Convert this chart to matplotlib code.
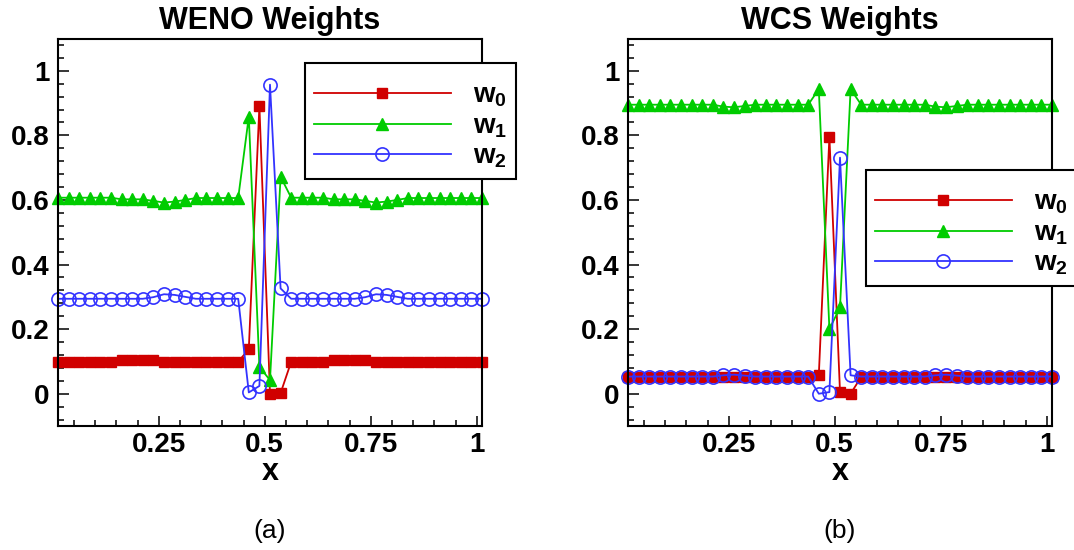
import matplotlib
matplotlib.use('Agg')
import matplotlib.pyplot as plt
import numpy as np
from matplotlib.ticker import MultipleLocator, FormatStrFormatter

plt.rcParams.update({
    'font.family': ['Liberation Sans', 'DejaVu Sans'],
    'font.weight': 'bold',
    'mathtext.fontset': 'custom',
    'mathtext.rm': 'Liberation Sans:bold',
    'mathtext.it': 'Liberation Sans:bold',
    'mathtext.bf': 'Liberation Sans:bold',
})

# grid points (41 cells, dx = 0.025)
x = 0.0125 + 0.025 * np.arange(41)

# WENO weights
weno_w0 = ([0.098] * 6 + [0.103] * 4 + [0.099] * 8
           + [0.138, 0.891, 0.000, 0.002]
           + [0.099] * 4 + [0.103] * 4 + [0.099] * 11)
weno_w1 = ([0.607] * 6 + [0.602] * 3 + [0.597, 0.592, 0.595, 0.600] + [0.606] * 5
           + [0.858, 0.083, 0.042, 0.672]
           + [0.607] * 4 + [0.602] * 3 + [0.597, 0.592, 0.595, 0.600] + [0.606] * 8)
weno_w2 = ([0.294] * 9 + [0.299, 0.308, 0.306, 0.300] + [0.294] * 5
           + [0.004, 0.024, 0.957, 0.326]
           + [0.294] * 7 + [0.299, 0.308, 0.306, 0.300] + [0.294] * 8)

# WCS weights
wcs_w0 = ([0.052] * 18
          + [0.057, 0.796, 0.005, 0.000]
          + [0.052] * 19)
wcs_w1 = ([0.895] * 9 + [0.889, 0.887, 0.891] + [0.895] * 6
          + [0.943, 0.200, 0.267, 0.943]
          + [0.895] * 7 + [0.889, 0.887, 0.891] + [0.895] * 9)
wcs_w2 = ([0.053] * 9 + [0.057, 0.059, 0.056] + [0.053] * 6
          + [0.000, 0.005, 0.731, 0.057]
          + [0.053] * 7 + [0.057, 0.059, 0.056] + [0.053] * 9)

panels = [
    ('WENO Weights', '(a)', (weno_w0, weno_w1, weno_w2), (0.5825, 0.937)),
    ('WCS Weights', '(b)', (wcs_w0, wcs_w1, wcs_w2), (0.561, 0.661)),
]
labels = ['$w_0$', '$w_1$', '$w_2$']
RED, GREEN, BLUE = '#D00000', '#00CC00', '#3333FF'

fig = plt.figure(figsize=(10.74, 5.5), dpi=100)
rects = [[58 / 1074, 124 / 550, 424 / 1074, 387.5 / 550],
         [628 / 1074, 124 / 550, 424 / 1074, 387.5 / 550]]

for rect, (title, tag, (w0, w1, w2), anchor) in zip(rects, panels):
    ax = fig.add_axes(rect)
    ax.plot(x, w0, color=RED, lw=1.3, marker='s', ms=7.5, mec=RED,
            mfc=RED, clip_on=False, label=labels[0])
    ax.plot(x, w1, color=GREEN, lw=1.3, marker='^', ms=8.5, mec=GREEN,
            mfc=GREEN, clip_on=False, label=labels[1])
    ax.plot(x, w2, color=BLUE, lw=1.3, marker='o', ms=9.5, mec=BLUE,
            mfc='none', mew=1.2, clip_on=False, label=labels[2])

    ax.set_xlim(0.0125, 1.0125)
    ax.set_ylim(-0.1, 1.1)
    ax.xaxis.set_major_locator(MultipleLocator(0.25))
    ax.xaxis.set_minor_locator(MultipleLocator(0.05))
    ax.yaxis.set_major_locator(MultipleLocator(0.2))
    ax.yaxis.set_minor_locator(MultipleLocator(0.04))
    ax.xaxis.set_major_formatter(FormatStrFormatter('%g'))
    ax.yaxis.set_major_formatter(FormatStrFormatter('%g'))
    ax.tick_params(which='both', direction='in', top=False, right=False,
                   width=1.1, labelsize=20)
    ax.tick_params(axis='x', which='major', length=7.5, pad=4.5)
    ax.tick_params(axis='y', which='major', length=8, pad=6)
    ax.tick_params(which='minor', length=4)
    for sp in ax.spines.values():
        sp.set_linewidth(1.5)

    ax.set_title(title, fontsize=22, fontweight='bold', pad=6.6)
    ax.set_xlabel('x', fontsize=22, fontweight='bold')
    ax.xaxis.set_label_coords(0.5, -0.139)
    ax.xaxis.label.set_va('baseline')
    ax.text(0.5, -0.289, tag, transform=ax.transAxes, ha='center',
            va='baseline', fontsize=19, fontweight='normal')

    # blank title only pads the top of the box, as in the reference
    leg = ax.legend(loc='upper left', bbox_to_anchor=anchor, borderaxespad=0,
                    handlelength=4.93, handletextpad=0.79, borderpad=0.32,
                    labelspacing=0.144, numpoints=1, fancybox=False,
                    edgecolor='black', framealpha=1, prop={'size': 20},
                    title=' ', title_fontsize=5)
    leg.get_frame().set_linewidth(1.5)

fig.savefig('out.png', dpi=100)
